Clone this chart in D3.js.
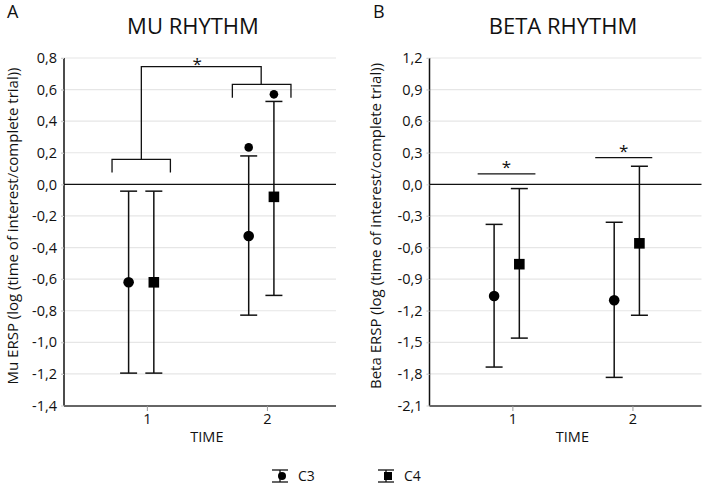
<!DOCTYPE html>
<html><head><meta charset="utf-8">
<script src="https://cdn.jsdelivr.net/npm/d3@7"></script>
<style>
body{margin:0;background:#fff;}
svg{display:block;font-family:"Open Sans",sans-serif;}
</style></head>
<body>
<svg id="chart" width="702" height="485"></svg>
<script>
// ---- data ----
const times = [1, 2];
const seriesNames = ["C3", "C4"];
// Mu rhythm
const muC3Mean = [-0.62, -0.327];
const muC3Upper = [-0.043, 0.18];
const muC3Lower = [-1.195, -0.828];
const muC4Mean = [-0.62, -0.079];
const muC4Upper = [-0.043, 0.525];
const muC4Lower = [-1.195, -0.703];
const muC3Extra = [null, 0.234];
const muC4Extra = [null, 0.57];
const muTicks = [-1.4, -1.2, -1.0, -0.8, -0.6, -0.4, -0.2, 0.0, 0.2, 0.4, 0.6, 0.8];
// Beta rhythm
const betaC3Mean = [-1.06, -1.10];
const betaC3Upper = [-0.38, -0.36];
const betaC3Lower = [-1.735, -1.833];
const betaC4Mean = [-0.758, -0.56];
const betaC4Upper = [-0.04, 0.172];
const betaC4Lower = [-1.46, -1.243];
const betaTicks = [-2.1, -1.8, -1.5, -1.2, -0.9, -0.6, -0.3, 0.0, 0.3, 0.6, 0.9, 1.2];
// significance annotations
const muBrackets = [
  {x0: 0.71, x1: 1.196, y: 0.158, yLeg: 0.075},
  {x0: 1.712, x1: 2.2, y: 0.633, yLeg: 0.549}
];
const muBigBracket = {x0: 0.954, x1: 1.952, y: 0.746, yLeg0: 0.158, yLeg1: 0.633};
const betaSigLines = [
  {x0: 0.711, x1: 1.192, y: 0.10},
  {x0: 1.69, x1: 2.165, y: 0.254}
];

const svg = d3.select("#chart");
const fmt = v => d3.format(".1f")(v).replace(".", ",").replace("−", "-");
const xDomain = [0.31, 2.575];
const offsets = {C3: -0.152, C4: 0.058};

function drawPanel(o) {
  const g = svg.append("g");
  const x = d3.scaleLinear().domain(xDomain).range([o.left, o.left + 272]);
  const y = d3.scaleLinear().domain([o.ticks[0], o.ticks[o.ticks.length - 1]]).range([405.5, 58]);
  // grid
  g.selectAll(".grid").data(o.ticks.filter(t => t !== 0 && t !== o.ticks[0])).join("line")
    .attr("x1", o.left - 3).attr("x2", x.range()[1])
    .attr("y1", d => y(d)).attr("y2", d => y(d))
    .attr("stroke", "#e6e6e6").attr("stroke-width", 1.2);
  // y axis
  const ya = d3.axisLeft(y).tickValues(o.ticks).tickFormat(fmt).tickSize(3).tickPadding(4);
  const yg = g.append("g").attr("transform", `translate(${o.left},0)`).call(ya);
  yg.select(".domain").attr("stroke", "#111").attr("stroke-width", 1.5).attr("d", `M0,58V406`);
  yg.selectAll(".tick line").attr("stroke", "#cfcfcf");
  yg.selectAll("text").attr("font-size", 14.5).attr("fill", "#111").attr("font-family", "Open Sans");
  // zero line
  g.append("line").attr("x1", o.left).attr("x2", x.range()[1]).attr("y1", y(0)).attr("y2", y(0))
    .attr("stroke", "#111").attr("stroke-width", 1.2);
  // x axis
  const xa = d3.axisBottom(x).tickValues(times).tickFormat(d3.format("d")).tickSize(5).tickPadding(3);
  const xg = g.append("g").attr("transform", `translate(0,406)`).call(xa);
  xg.select(".domain").attr("stroke", "#666").attr("stroke-width", 2).attr("d", `M${o.left},0H${x.range()[1]}`);
  xg.selectAll(".tick line").attr("stroke", "#999");
  xg.selectAll("text").attr("font-size", 14.5).attr("fill", "#111").attr("font-family", "Open Sans");
  // labels
  g.append("text").attr("x", x(1.5)).attr("y", 442).attr("text-anchor", "middle")
    .attr("font-size", 14.5).attr("fill", "#111").text("TIME");
  g.append("text").attr("transform", `translate(${o.ylabX},226) rotate(-90)`).attr("text-anchor", "middle")
    .attr("font-size", 15).attr("fill", "#111").text(o.ylabel);
  g.append("text").attr("x", o.titleX).attr("y", 34).attr("text-anchor", "middle")
    .attr("font-size", 22).attr("fill", "#111").text(o.title);
  g.append("text").attr("x", o.letterX).attr("y", 18).attr("font-size", 18).attr("fill", "#111").text(o.letter);

  // error bars
  const capHalf = 8.5;
  o.series.forEach(s => {
    const sg = g.append("g");
    const data = times.map((t, i) => ({t, m: s.mean[i], u: s.upper[i], l: s.lower[i], e: s.extra ? s.extra[i] : null}));
    const cx = d => x(d.t + offsets[s.name]);
    sg.selectAll(".v").data(data).join("line").attr("x1", cx).attr("x2", cx)
      .attr("y1", d => y(d.u)).attr("y2", d => y(d.l)).attr("stroke", "#111").attr("stroke-width", 1.5);
    ["u", "l"].forEach(k => {
      sg.selectAll(".c" + k).data(data).join("line").attr("x1", d => cx(d) - capHalf).attr("x2", d => cx(d) + capHalf)
        .attr("y1", d => y(d[k])).attr("y2", d => y(d[k])).attr("stroke", "#111").attr("stroke-width", 1.5);
    });
    if (s.name === "C3") {
      sg.selectAll(".m").data(data).join("circle").attr("cx", cx).attr("cy", d => y(d.m)).attr("r", 5.3).attr("fill", "#000");
    } else {
      sg.selectAll(".m").data(data).join("rect").attr("x", d => cx(d) - 5.3).attr("y", d => y(d.m) - 5.3)
        .attr("width", 10.6).attr("height", 10.6).attr("fill", "#000");
    }
    sg.selectAll(".e").data(data.filter(d => d.e !== null)).join("circle").attr("cx", cx).attr("cy", d => y(d.e))
      .attr("r", 4.3).attr("fill", "#000");
  });
  return {g, x, y};
}

// Panel A
const pA = drawPanel({
  left: 64, ticks: muTicks, title: "MU RHYTHM", letter: "A", letterX: 7, ylabX: 17.5, titleX: 193,
  ylabel: "Mu ERSP (log (time of interest/complete trial))",
  series: [
    {name: "C3", mean: muC3Mean, upper: muC3Upper, lower: muC3Lower, extra: muC3Extra},
    {name: "C4", mean: muC4Mean, upper: muC4Upper, lower: muC4Lower, extra: muC4Extra}
  ]
});
muBrackets.forEach(b => {
  pA.g.append("path").attr("fill", "none").attr("stroke", "#111").attr("stroke-width", 1.3)
    .attr("d", `M${pA.x(b.x0)},${pA.y(b.yLeg)}V${pA.y(b.y)}H${pA.x(b.x1)}V${pA.y(b.yLeg)}`);
});
pA.g.append("path").attr("fill", "none").attr("stroke", "#111").attr("stroke-width", 1.3)
  .attr("d", `M${pA.x(muBigBracket.x0)},${pA.y(muBigBracket.yLeg0)}V${pA.y(muBigBracket.y)}H${pA.x(muBigBracket.x1)}V${pA.y(muBigBracket.yLeg1)}`);
pA.g.append("text").attr("x", pA.x((muBigBracket.x0 + muBigBracket.x1) / 2) - 4).attr("y", pA.y(muBigBracket.y) + 3)
  .attr("text-anchor", "middle").attr("font-size", 17).attr("fill", "#111").text("*");

// Panel B
const pB = drawPanel({
  left: 429.5, ticks: betaTicks, title: "BETA RHYTHM", letter: "B", letterX: 373, ylabX: 381, titleX: 563,
  ylabel: "Beta ERSP (log (time of interest/complete trial))",
  series: [
    {name: "C3", mean: betaC3Mean, upper: betaC3Upper, lower: betaC3Lower},
    {name: "C4", mean: betaC4Mean, upper: betaC4Upper, lower: betaC4Lower}
  ]
});
betaSigLines.forEach(b => {
  pB.g.append("line").attr("x1", pB.x(b.x0)).attr("x2", pB.x(b.x1)).attr("y1", pB.y(b.y)).attr("y2", pB.y(b.y))
    .attr("stroke", "#111").attr("stroke-width", 1.3);
  pB.g.append("text").attr("x", pB.x((b.x0 + b.x1) / 2)).attr("y", pB.y(b.y) - 0.5).attr("text-anchor", "middle")
    .attr("font-size", 17).attr("fill", "#111").text("*");
});

// Legend
const leg = svg.append("g");
const legX = [280, 386];
seriesNames.forEach((n, i) => {
  const cx = legX[i], cy = 476;
  leg.append("line").attr("x1", cx - 8).attr("x2", cx + 8).attr("y1", cy - 6).attr("y2", cy - 6).attr("stroke", "#111").attr("stroke-width", 1.3);
  leg.append("line").attr("x1", cx - 8).attr("x2", cx + 8).attr("y1", cy + 6).attr("y2", cy + 6).attr("stroke", "#111").attr("stroke-width", 1.3);
  leg.append("line").attr("x1", cx).attr("x2", cx).attr("y1", cy - 6).attr("y2", cy + 6).attr("stroke", "#111").attr("stroke-width", 1.3);
  if (n === "C3") leg.append("circle").attr("cx", cx + 2).attr("cy", cy).attr("r", 4).attr("fill", "#000");
  else leg.append("rect").attr("x", cx - 2).attr("y", cy - 4).attr("width", 8).attr("height", 8).attr("fill", "#000");
  leg.append("text").attr("x", cx + 18).attr("y", cy + 5).attr("font-size", 14).attr("fill", "#111").text(n);
});
</script>
</body></html>
